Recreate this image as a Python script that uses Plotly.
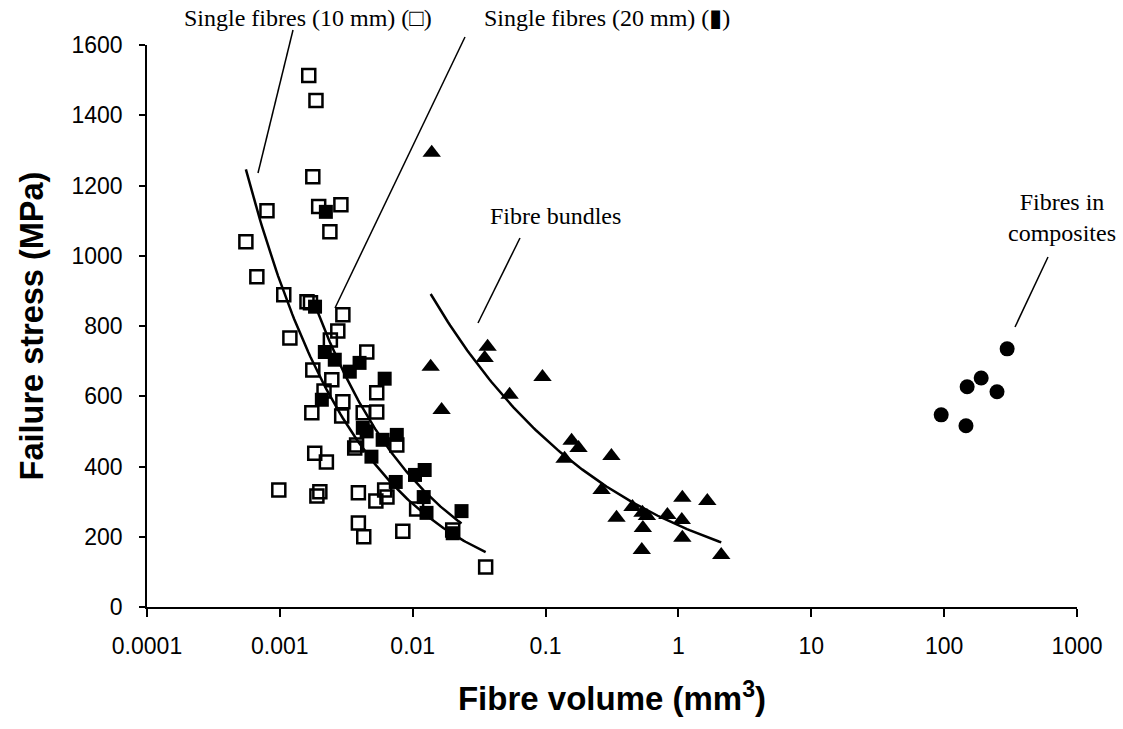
import numpy as np
import plotly.graph_objects as go

# ---- data ----
single10_vol = [0.00165, 0.00187, 0.00177, 0.00080, 0.000555, 0.00196, 0.00288, 0.00238,
                0.000671, 0.00107, 0.00160, 0.00170, 0.00298, 0.00273, 0.00119, 0.00451,
                0.00177, 0.00246, 0.00536, 0.00298, 0.00174, 0.00292, 0.00536, 0.00424,
                0.00378, 0.00240, 0.00215, 0.00366, 0.00759, 0.00183, 0.00224, 0.000982,
                0.00200, 0.00190, 0.00390, 0.00528, 0.00615, 0.00640, 0.0107, 0.0200,
                0.00390, 0.00428, 0.00842, 0.0354]
single10_stress = [1513, 1442, 1225, 1128, 1040, 1140, 1145, 1068,
                   940, 889, 869, 866, 832, 786, 766, 726,
                   675, 647, 610, 584, 553, 544, 555, 553,
                   461, 760, 615, 453, 461, 438, 413, 333,
                   328, 316, 325, 302, 333, 313, 279, 219,
                   239, 200, 216, 114]

single20_vol = [0.00222, 0.00184, 0.00218, 0.00259, 0.00398, 0.00336, 0.00615, 0.00207,
                0.00421, 0.00450, 0.00759, 0.00594, 0.00489, 0.0123, 0.0104, 0.00745,
                0.0121, 0.0127, 0.0233, 0.0200]
single20_stress = [1125, 855, 726, 704, 695, 670, 650, 590,
                   510, 500, 490, 476, 428, 390, 376, 356,
                   313, 268, 273, 210]

bundle_vol = [0.0139, 0.0366, 0.0348, 0.01365, 0.0948, 0.0536, 0.0165, 0.157, 0.177,
              0.139, 0.313, 0.264, 0.451, 0.536, 0.579, 0.342, 0.540, 0.826, 1.07,
              1.06, 1.65, 1.07, 0.530, 2.10]
bundle_stress = [1293, 741, 709, 684, 655, 604, 561, 473, 453,
                 422, 430, 333, 285, 268, 259, 254, 225, 262, 311,
                 248, 302, 197, 162, 148]

composite_vol = [298, 190, 149, 250, 95, 146]
composite_stress = [735, 652, 627, 613, 547, 516]

x_tick_vals = [0.0001, 0.001, 0.01, 0.1, 1, 10, 100, 1000]
x_tick_text = ["0.0001", "0.001", "0.01", "0.1", "1", "10", "100", "1000"]
y_tick_vals = [0, 200, 400, 600, 800, 1000, 1200, 1400, 1600]


def power_fit(xs, ys, n=120):
    """Excel-style power trendline: least squares on ln(y) vs ln(x)."""
    lx, ly = np.log(np.array(xs)), np.log(np.array(ys))
    b, ln_a = np.polyfit(lx, ly, 1)
    xx = np.geomspace(min(xs), max(xs), n)
    return xx, np.exp(ln_a) * xx ** b


fig = go.Figure()

for xs, ys in [(single10_vol, single10_stress), (single20_vol, single20_stress),
               (bundle_vol, bundle_stress)]:
    fx, fy = power_fit(xs, ys)
    fig.add_trace(go.Scatter(x=fx, y=fy, mode="lines",
                             line=dict(color="black", width=2.5),
                             showlegend=False, hoverinfo="skip"))

fig.add_trace(go.Scatter(x=single10_vol, y=single10_stress, mode="markers",
                         name="Single fibres (10 mm)",
                         marker=dict(symbol="square-open", size=13, color="black",
                                     line=dict(width=2.5, color="black"))))
fig.add_trace(go.Scatter(x=single20_vol, y=single20_stress, mode="markers",
                         name="Single fibres (20 mm)",
                         marker=dict(symbol="square", size=14, color="black")))
fig.add_trace(go.Scatter(x=bundle_vol, y=bundle_stress, mode="markers",
                         name="Fibre bundles",
                         marker=dict(symbol="triangle-up", size=16, color="black")))
fig.add_trace(go.Scatter(x=composite_vol, y=composite_stress, mode="markers",
                         name="Fibres in composites",
                         marker=dict(symbol="circle", size=15, color="black")))

# plot area in page pixels: x 147..1077, y 45..607
W, H = 1123, 729
L, R, T, B = 147, 1077, 45, 607


def px(xp):
    return (xp - L) / (R - L)


def py(yp):
    return (B - yp) / (B - T)


callout_lines = [((293, 30), (258, 173)),
                 ((465, 37), (335, 308)),
                 ((520, 238), (478, 323)),
                 ((1048, 257), (1015, 327))]
shapes = []
for (x0, y0), (x1, y1) in callout_lines:
    shapes.append(dict(type="line", xref="paper", yref="paper",
                       x0=px(x0), y0=py(y0), x1=px(x1), y1=py(y1),
                       line=dict(color="black", width=1.5)))

serif = dict(family="Liberation Serif, Times New Roman, serif", size=24, color="black")
annotations = [
    dict(text="Single fibres (10 mm) (□)", x=px(308), y=py(18)),
    dict(text="Single fibres (20 mm) (▮)", x=px(607), y=py(18)),
    dict(text="Fibre bundles", x=px(555), y=py(216)),
    dict(text="Fibres in<br>composites", x=px(1062), y=py(218)),
]
for a in annotations:
    a.update(xref="paper", yref="paper", showarrow=False, font=serif,
             xanchor="center", yanchor="middle")

fig.update_layout(
    width=W, height=H,
    margin=dict(l=L, r=W - R, t=T, b=H - B),
    paper_bgcolor="white", plot_bgcolor="white",
    showlegend=False,
    shapes=shapes, annotations=annotations,
    font=dict(family="Liberation Sans, Arial, sans-serif", color="black"),
)
fig.update_xaxes(type="log", range=[-4, 3], tickvals=x_tick_vals, ticktext=x_tick_text,
                 showgrid=False, zeroline=False, showline=True, linecolor="black",
                 linewidth=1.5, ticks="outside", ticklen=8, tickwidth=1.5, tickcolor="black",
                 tickfont=dict(size=23), ticklabelstandoff=10,
                 title=dict(text="<b>Fibre volume (mm<sup>3</sup>)</b>",
                            font=dict(size=33), standoff=29))
fig.update_yaxes(range=[0, 1600], tickvals=y_tick_vals,
                 showgrid=False, zeroline=False, showline=True, linecolor="black",
                 linewidth=1.5, ticks="outside", ticklen=6, tickwidth=1.5, tickcolor="black",
                 tickfont=dict(size=23), ticklabelstandoff=12,
                 title=dict(text="<b>Failure stress (MPa)</b>", font=dict(size=32.5), standoff=18))

fig.write_html("out.html", config={"displayModeBar": False},
               post_script="document.body.style.margin='0px';"
                           "document.body.style.overflow='hidden';")
